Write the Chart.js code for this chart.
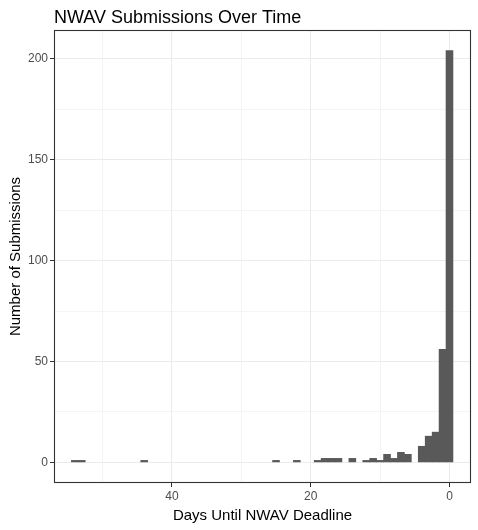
<!DOCTYPE html>
<html>
<head>
<meta charset="utf-8">
<script src="https://cdn.jsdelivr.net/npm/chart.js@4/dist/chart.umd.min.js"></script>
<style>
  html, body { margin: 0; padding: 0; background: #ffffff; }
  #wrap { width: 478px; height: 530px; position: relative; }
</style>
</head>
<body>
<div id="wrap"><canvas id="c" width="478" height="530"></canvas></div>
<script>
// ---- data ----
const chartTitle = "NWAV Submissions Over Time";
const xTitle = "Days Until NWAV Deadline";
const yTitle = "Number of Submissions";
const days = [54, 53, 44, 25, 22, 19, 18, 17, 16, 14, 12, 11, 10, 9, 8, 7, 6, 4, 3, 2, 1, 0];
const submissions = [1, 1, 1, 1, 1, 1, 2, 2, 2, 2, 1, 2, 1, 4, 2, 5, 4, 8, 13, 15, 56, 204];
const xMajorTicks = [0, 20, 40];
const xMinorTicks = [10, 30, 50];
const yMajorTicks = [0, 50, 100, 150, 200];
const yMinorTicks = [25, 75, 125, 175];

const GRID = '#EBEBEB';
const TICKCOL = '#4D4D4D';
const BORDER = '#333333';
const FONT = '"Liberation Sans", Arial, sans-serif';

const points = days.map((d, i) => ({ x: d, y: submissions[i] }));

function isMajor(c, list) {
  return !!(c.tick && list.includes(c.tick.value));
}

const panelPlugin = {
  id: 'panel',
  afterDatasetsDraw(chart) {
    const a = chart.chartArea, ctx = chart.ctx;
    ctx.save();
    ctx.strokeStyle = BORDER;
    ctx.lineWidth = 1.1;
    ctx.strokeRect(Math.round(a.left) + 0.5, Math.round(a.top) + 0.5,
                   Math.round(a.right - a.left) - 1, Math.round(a.bottom - a.top) - 1);
    ctx.restore();
  },
  afterDraw(chart) {
    const ctx = chart.ctx;
    ctx.save();
    ctx.fillStyle = '#000000';
    ctx.font = '18px ' + FONT;
    ctx.textBaseline = 'alphabetic';
    ctx.textAlign = 'left';
    ctx.fillText(chartTitle, chart.chartArea.left, 23);
    ctx.restore();
  }
};

new Chart(document.getElementById('c'), {
  type: 'bar',
  data: {
    datasets: [{
      data: points,
      backgroundColor: '#595959',
      borderWidth: 0,
      categoryPercentage: 1.0,
      barPercentage: 1.0
    }]
  },
  options: {
    responsive: false,
    animation: false,
    devicePixelRatio: 1,
    layout: { padding: { left: 0, right: 7, top: 30, bottom: 0 } },
    plugins: { legend: { display: false }, tooltip: { enabled: false }, title: { display: false } },
    scales: {
      x: {
        type: 'linear',
        reverse: true,
        min: -3.1,
        max: 57,
        offset: false,
        afterBuildTicks(s) {
          s.ticks = xMajorTicks.concat(xMinorTicks).sort((a, b) => a - b).map(v => ({ value: v }));
        },
        afterFit(s) { s.height = 47; },
        border: { display: false },
        grid: {
          offset: false,
          color: GRID,
          lineWidth: (c) => isMajor(c, xMajorTicks) ? 1 : 0.55,
          tickColor: (c) => isMajor(c, xMajorTicks) ? BORDER : 'rgba(0,0,0,0)',
          tickLength: 4,
          drawTicks: true
        },
        ticks: {
          autoSkip: false,
          maxRotation: 0,
          padding: 2,
          color: TICKCOL,
          font: { family: FONT, size: 12 },
          callback: (v) => xMajorTicks.includes(v) ? String(v) : ''
        },
        title: {
          display: true,
          text: xTitle,
          color: '#000000',
          font: { family: FONT, size: 15 },
          padding: { top: 0, bottom: 5 }
        }
      },
      y: {
        type: 'linear',
        min: -10.2,
        max: 214.2,
        afterBuildTicks(s) {
          s.ticks = yMajorTicks.concat(yMinorTicks).sort((a, b) => a - b).map(v => ({ value: v }));
        },
        afterFit(s) { s.width = 54; },
        border: { display: false },
        grid: {
          offset: false,
          color: GRID,
          lineWidth: (c) => isMajor(c, yMajorTicks) ? 1 : 0.55,
          tickColor: (c) => isMajor(c, yMajorTicks) ? BORDER : 'rgba(0,0,0,0)',
          tickLength: 4,
          drawTicks: true
        },
        ticks: {
          autoSkip: false,
          padding: 2,
          color: TICKCOL,
          font: { family: FONT, size: 12 },
          callback: (v) => yMajorTicks.includes(v) ? String(v) : ''
        },
        title: {
          display: true,
          text: yTitle,
          color: '#000000',
          font: { family: FONT, size: 15 },
          padding: { top: 7, bottom: 0 }
        }
      }
    }
  },
  plugins: [panelPlugin]
});
</script>
</body>
</html>
